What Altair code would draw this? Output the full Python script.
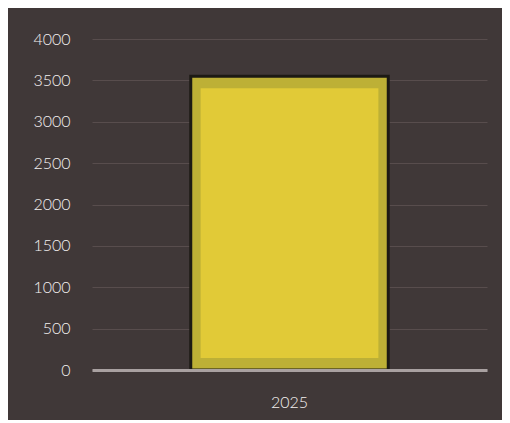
import altair as alt
import pandas as pd

years = ["2025"]
values = [3550]

df = pd.DataFrame({"year": years, "value": values, "base": [0]})

x = alt.X("year:N", title=None,
          scale=alt.Scale(paddingInner=0.5, paddingOuter=0.25),
          axis=alt.Axis(labelAngle=0, ticks=False, domain=True, domainColor="#a9a1a1",
                        domainWidth=3, labelPadding=24, labelFontSize=16, labelColor="#f4f0f0",
                        labelFont="Lato", labelFontWeight=300, grid=False, zindex=1))
y = alt.Y("value:Q", title=None,
          scale=alt.Scale(domain=[0, 4000], nice=False),
          axis=alt.Axis(values=[0, 500, 1000, 1500, 2000, 2500, 3000, 3500, 4000],
                        format="d", ticks=False, domain=False, labelPadding=22, labelFontSize=16,
                        labelColor="#f4f0f0", labelFont="Lato", labelFontWeight=300,
                        gridColor="#5e5353", gridWidth=1.2, gridOpacity=0.8))

outer = alt.Chart(df).mark_bar(color="#bdb036", stroke="#1c1a14", strokeWidth=3).encode(
    x=x, y=y, y2="base:Q")
inner = alt.Chart(df).mark_bar(color="#e1ca37", width={"band": 0.9}, yOffset=12, y2Offset=-12).encode(
    x=x, y=y, y2="base:Q")

chart = (outer + inner).properties(
    width=395, height=331,
    autosize=alt.AutoSizeParams(type="none"),
    padding={"left": 84, "top": 31, "right": 15, "bottom": 50},
    background="#403838",
).configure_view(stroke=None)

chart.save("out.html", embed_options={"renderer": "svg", "actions": False})
